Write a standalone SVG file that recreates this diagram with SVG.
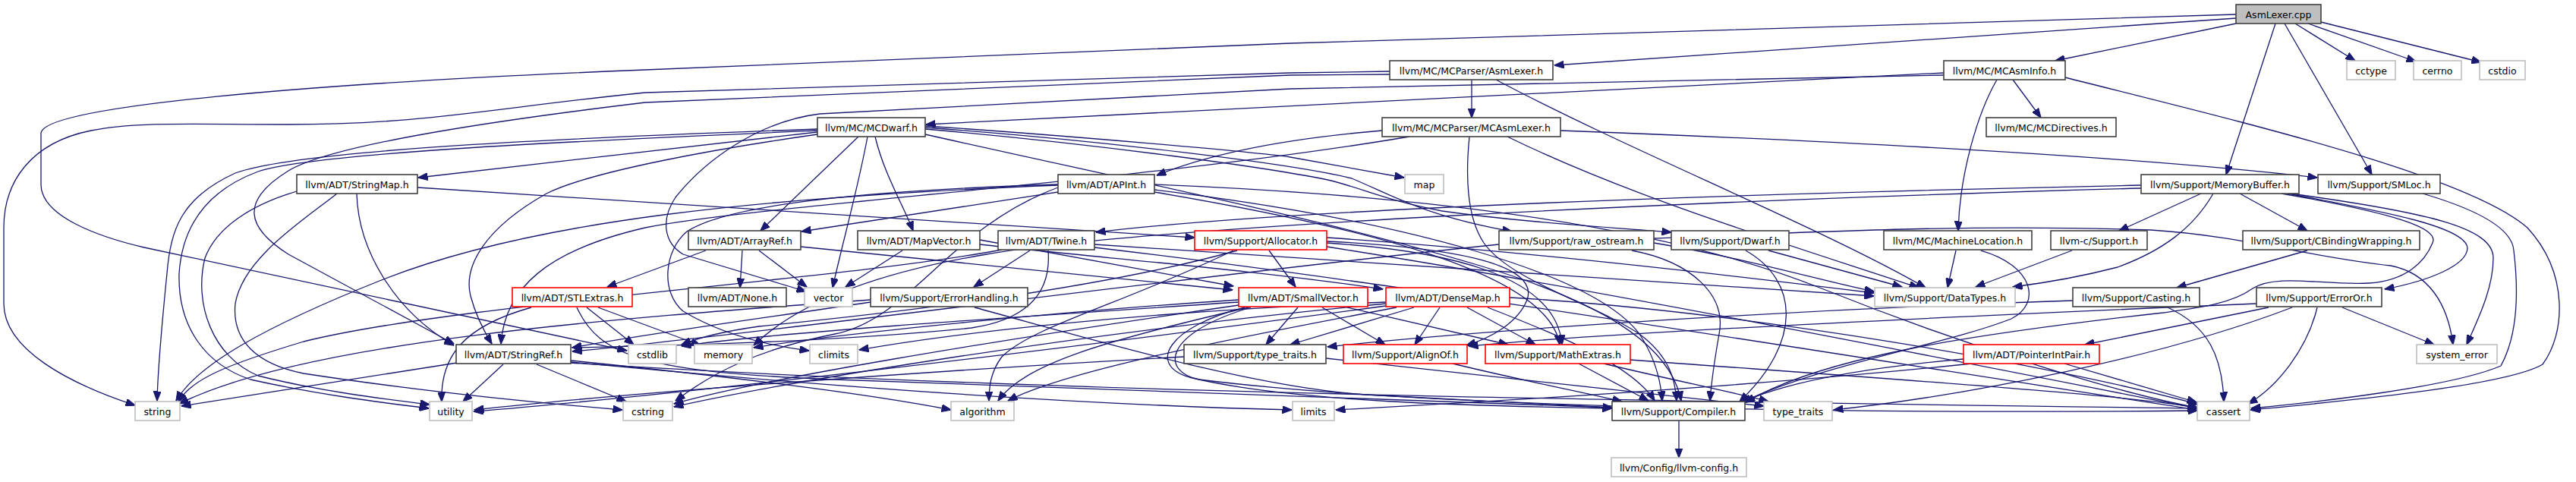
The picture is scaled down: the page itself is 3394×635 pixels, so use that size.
<svg xmlns="http://www.w3.org/2000/svg" width="3394" height="635" viewBox="0 0 3394 635">
<style>
.node rect{fill:#fff;stroke:#404040;stroke-width:1.6}
.node.red rect{stroke:#ff0000}
.node.ext rect{stroke:#bfbfbf}
.node.root rect{fill:#bfbfbf}
.node text{font-family:"DejaVu Sans",sans-serif;font-size:12.5px;fill:#000;text-anchor:middle}
.edges path{fill:none;stroke:#191970;stroke-width:1.3;marker-end:url(#arr)}
</style>
<defs>
<marker id="arr" markerWidth="13" markerHeight="10" refX="12.5" refY="5" orient="auto" markerUnits="userSpaceOnUse"><path d="M0,0 L13,5 L0,10 z" fill="#191970" stroke="#191970" stroke-width="1"/></marker>
</defs>
<rect width="3394" height="635" fill="#fff"/>
<g id="edges" class="edges">
<path d="M2946,24 L2048,86"/>
<path d="M2946,31 L2708,80"/>
<path d="M2998,31 L2933,230"/>
<path d="M3010,31 L3125,230"/>
<path d="M3024,31 L3103,80"/>
<path d="M3041,31 L3183,81"/>
<path d="M3058,29 L3269,82"/>
<path d="M2946,19 L1700,57 L850,92 C400,110 60,140 54,175 L54,243 C54,285 130,312 190,326 L826,462"/>
<path d="M1939,105 L1939,155"/>
<path d="M1831,94 L1700,96 L850,122 C650,142 560,164 379,164 C250,164 180,160 120,172 C40,188 5,240 5,300 L5,400 C5,460 90,505 178,534"/>
<path d="M1831,98 L1700,99 L850,135 C600,165 430,195 380,225 C315,265 325,300 380,335 L598,453"/>
<path d="M1971,105 C2150,200 2400,300 2537,379"/>
<path d="M2652,105 L2689,155"/>
<path d="M2631,105 C2605,150 2582,230 2580,304"/>
<path d="M2721,102 C2950,160 3250,230 3330,300 C3385,360 3380,440 3350,480 C3300,510 3050,532 2965,540"/>
<path d="M2561,96 L1220,164"/>
<path d="M2561,99 L1700,117 L1080,150 C1000,160 930,210 890,260 C870,290 875,320 900,335 L1062,384"/>
<path d="M1077,174 L551,234"/>
<path d="M1077,170 C800,180 400,195 310,228 C240,260 225,300 220,360 C214,420 208,480 207,528"/>
<path d="M1077,172 C800,184 420,200 340,226 C270,252 240,300 236,360 C234,430 270,480 330,500 C420,520 500,530 565,538"/>
<path d="M1077,177 C950,195 780,225 720,255 C640,300 610,350 620,390 C628,420 640,440 648,453"/>
<path d="M1131,180 L1002,304"/>
<path d="M1143,180 C1130,250 1110,320 1097,379"/>
<path d="M1153,180 C1165,230 1190,270 1203,304"/>
<path d="M1219,166 C1400,178 1650,200 1700,207 L1850,234"/>
<path d="M1219,168 C1450,185 1700,215 1781,235 C1840,260 1880,285 1992,305"/>
<path d="M1219,170 C1450,190 1680,222 1754,238 C1800,250 1830,265 1900,278 C2000,292 2100,298 2202,306"/>
<path d="M1219,177 C1500,240 1750,290 1950,350 C2100,395 2200,450 2215,528"/>
<path d="M1821,172 C1700,182 1600,200 1524,231"/>
<path d="M1857,180 C1500,240 1000,270 850,300 C720,330 665,380 660,453"/>
<path d="M1936,180 C1930,240 1935,290 1955,320 C1990,370 2100,400 2160,440 C2200,470 2207,500 2209,528"/>
<path d="M1986,180 C2150,260 2350,320 2528,379"/>
<path d="M2056,172 C2400,185 2800,205 3053,234"/>
<path d="M470,255 C472,330 520,410 598,455"/>
<path d="M550,247 L1574,313"/>
<path d="M444,255 C400,290 320,340 310,400 C305,450 340,480 400,492 C550,515 700,530 820,540"/>
<path d="M391,252 C330,270 285,300 270,340 C255,400 280,470 340,495 C420,515 500,525 566,533"/>
<path d="M1394,253 L1056,305"/>
<path d="M1394,244 C1000,260 700,290 500,370 C350,430 260,480 232,528"/>
<path d="M1394,247 C1250,300 1200,420 1100,440 C1000,460 940,490 890,528"/>
<path d="M1394,243 C1100,252 950,275 905,305 C875,330 870,385 900,410 C950,440 1010,455 1066,462"/>
<path d="M1521,253 C1800,300 2040,360 2055,454"/>
<path d="M1521,243 C1900,258 2200,300 2400,380 C2600,460 2800,520 2895,537"/>
<path d="M1521,250 C1850,290 2100,360 2160,440 C2180,470 2188,500 2190,528"/>
<path d="M2900,255 L2792,304"/>
<path d="M2916,255 C2890,300 2850,330 2790,352 C2740,365 2700,372 2652,378"/>
<path d="M2951,255 L3040,304"/>
<path d="M2821,244 C2300,255 1700,275 1444,306"/>
<path d="M2821,248 C2200,265 1500,300 1300,335 C1150,360 1050,400 993,455"/>
<path d="M3014,255 C3150,280 3250,300 3251,327 C3250,350 3200,370 3142,381"/>
<path d="M3018,255 C3200,280 3285,300 3285,340 C3285,380 3265,420 3250,454"/>
<path d="M3006,255 C3150,280 3215,300 3205,320 C3195,345 3170,370 3121,373 C3060,376 3000,360 2968,380 C2940,400 2900,405 2850,412 C2600,440 2400,470 2300,530"/>
<path d="M2179,314 C2400,305 2600,295 2834,303 C2950,310 3050,340 3150,350 C3200,360 3225,400 3232,454"/>
<path d="M3192,255 C3260,275 3310,300 3312,330 C3318,380 3318,440 3295,482 C3230,510 3050,530 2966,538"/>
<path d="M930,330 L800,378"/>
<path d="M978,330 L975,379"/>
<path d="M1000,330 L1063,378"/>
<path d="M1055,325 L1624,382"/>
<path d="M1189,330 L1114,378"/>
<path d="M1291,322 C1450,340 1650,355 1822,381"/>
<path d="M1291,316 L1625,377"/>
<path d="M1357,330 L1283,378"/>
<path d="M1381,330 C1385,380 1360,420 1280,432 C1100,450 900,455 754,458"/>
<path d="M1442,322 C1800,345 2200,375 2469,390"/>
<path d="M1442,326 C1900,380 2500,480 2896,540"/>
<path d="M1320,329 C1100,370 600,400 400,450 C300,480 250,500 235,530"/>
<path d="M1672,330 L1707,378"/>
<path d="M1748,318 C1900,325 2030,345 2012,395 C2000,425 1965,445 1932,455"/>
<path d="M1748,320 C1900,330 2050,360 2058,454"/>
<path d="M1748,313 C2000,330 2300,365 2469,386"/>
<path d="M1748,325 C2100,380 2600,480 2895,538"/>
<path d="M1630,330 C1450,380 1200,410 1000,430 C950,437 920,445 898,454"/>
<path d="M1625,330 C1480,400 1360,430 1320,470 C1305,490 1303,510 1303,528"/>
<path d="M1975,322 C1600,360 1000,440 754,463"/>
<path d="M2150,330 C2230,345 2275,390 2265,440 C2258,480 2255,500 2253,528"/>
<path d="M2179,320 C2300,340 2400,370 2469,384"/>
<path d="M2300,330 C2370,370 2375,450 2292,529"/>
<path d="M2330,330 L2506,378"/>
<path d="M2577,330 L2566,379"/>
<path d="M2610,330 C2680,350 2690,400 2650,420 C2560,455 2400,480 2295,530"/>
<path d="M2730,330 L2603,378"/>
<path d="M3040,330 L2868,379"/>
<path d="M700,405 C610,430 580,470 582,529"/>
<path d="M773,405 L835,454"/>
<path d="M788,405 L923,455"/>
<path d="M760,405 C790,470 850,490 1100,500 C1600,515 1900,530 2124,537"/>
<path d="M1147,398 C1000,420 850,440 754,458"/>
<path d="M1284,405 C1450,450 1650,510 1800,520 L2124,537"/>
<path d="M1147,395 C800,420 400,450 236,532"/>
<path d="M1710,405 L1668,454"/>
<path d="M1742,405 L1825,454"/>
<path d="M1775,405 L1987,454"/>
<path d="M1640,405 C1540,430 1510,480 1567,497 C1700,530 1950,535 2124,538"/>
<path d="M1648,405 C1530,440 1530,490 1580,500 C1900,540 2500,545 2895,541"/>
<path d="M1645,405 C1450,450 1350,480 1315,528"/>
<path d="M1632,398 C1300,420 1000,440 898,456"/>
<path d="M1632,402 C1300,450 1000,500 888,532"/>
<path d="M1632,395 C1400,410 1100,440 993,458"/>
<path d="M1897,405 L1864,454"/>
<path d="M1933,405 L2023,454"/>
<path d="M1863,405 L1700,454"/>
<path d="M1960,405 C2050,440 2150,480 2180,528"/>
<path d="M1989,392 C2300,410 2700,480 2898,533"/>
<path d="M1826,398 C1500,410 1250,440 1132,461"/>
<path d="M1840,405 C1600,450 1400,490 1328,528"/>
<path d="M1826,400 C1400,440 1000,510 888,536"/>
<path d="M1826,403 C1400,460 900,520 624,542"/>
<path d="M2731,396 C2300,410 1900,440 1749,457"/>
<path d="M2856,405 C2910,430 2928,470 2930,529"/>
<path d="M2989,405 L2747,454"/>
<path d="M2973,400 C2500,420 2100,440 1935,456"/>
<path d="M3053,405 C3040,460 3000,510 2962,532"/>
<path d="M3086,405 L3207,454"/>
<path d="M3020,405 C2850,470 2600,520 2416,540"/>
<path d="M602,478 L239,535"/>
<path d="M663,480 L610,529"/>
<path d="M707,480 L825,529"/>
<path d="M752,475 C1000,500 1150,520 1253,540"/>
<path d="M752,477 C1200,520 1500,535 1702,540"/>
<path d="M752,478 C1400,520 2300,530 2895,538"/>
<path d="M1560,470 C1200,490 800,520 625,540"/>
<path d="M1747,472 C2000,500 2200,520 2324,535"/>
<path d="M1914,479 C2000,500 2100,520 2137,529"/>
<path d="M2080,479 L2172,528"/>
<path d="M2148,474 C2500,500 2800,520 2895,537"/>
<path d="M2113,479 C2200,500 2290,518 2330,529"/>
<path d="M2587,473 C2450,485 2350,505 2295,530"/>
<path d="M2598,479 C2300,510 1950,530 1760,540"/>
<path d="M2720,479 L2894,530"/>
<path d="M2212,554 L2212,603"/>
</g>
<g id="n_cpp" class="node root"><rect x="2946" y="6" width="112" height="25"/><text x="3002" y="23.5">AsmLexer.cpp</text></g>
<g id="n_asmlexh" class="node"><rect x="1831" y="80" width="215" height="25"/><text x="1938.5" y="97.5">llvm/MC/MCParser/AsmLexer.h</text></g>
<g id="n_mcasminfo" class="node"><rect x="2561" y="80" width="160" height="25"/><text x="2641" y="97.5">llvm/MC/MCAsmInfo.h</text></g>
<g id="n_cctype" class="node ext"><rect x="3092" y="80" width="64" height="25"/><text x="3124" y="97.5">cctype</text></g>
<g id="n_cerrno" class="node ext"><rect x="3180" y="80" width="63" height="25"/><text x="3211.5" y="97.5">cerrno</text></g>
<g id="n_cstdio" class="node ext"><rect x="3267" y="80" width="60" height="25"/><text x="3297" y="97.5">cstdio</text></g>
<g id="n_mcdwarf" class="node"><rect x="1077" y="155" width="142" height="25"/><text x="1148" y="172.5">llvm/MC/MCDwarf.h</text></g>
<g id="n_mcasmlexer" class="node"><rect x="1821" y="155" width="235" height="25"/><text x="1938.5" y="172.5">llvm/MC/MCParser/MCAsmLexer.h</text></g>
<g id="n_mcdirectives" class="node"><rect x="2617" y="155" width="171" height="25"/><text x="2702.5" y="172.5">llvm/MC/MCDirectives.h</text></g>
<g id="n_stringmap" class="node"><rect x="391" y="230" width="159" height="25"/><text x="470.5" y="247.5">llvm/ADT/StringMap.h</text></g>
<g id="n_apint" class="node"><rect x="1394" y="230" width="127" height="25"/><text x="1457.5" y="247.5">llvm/ADT/APInt.h</text></g>
<g id="n_map" class="node ext"><rect x="1851" y="230" width="51" height="25"/><text x="1876.5" y="247.5">map</text></g>
<g id="n_memorybuffer" class="node"><rect x="2821" y="230" width="208" height="25"/><text x="2925" y="247.5">llvm/Support/MemoryBuffer.h</text></g>
<g id="n_smloc" class="node"><rect x="3054" y="230" width="161" height="25"/><text x="3134.5" y="247.5">llvm/Support/SMLoc.h</text></g>
<g id="n_arrayref" class="node"><rect x="907" y="304" width="148" height="25"/><text x="981" y="321.5">llvm/ADT/ArrayRef.h</text></g>
<g id="n_mapvector" class="node"><rect x="1130" y="304" width="161" height="25"/><text x="1210.5" y="321.5">llvm/ADT/MapVector.h</text></g>
<g id="n_twine" class="node"><rect x="1315" y="304" width="127" height="25"/><text x="1378.5" y="321.5">llvm/ADT/Twine.h</text></g>
<g id="n_allocator" class="node red"><rect x="1574" y="304" width="174" height="25"/><text x="1661" y="321.5">llvm/Support/Allocator.h</text></g>
<g id="n_rawostream" class="node"><rect x="1975" y="304" width="204" height="25"/><text x="2077" y="321.5">llvm/Support/raw_ostream.h</text></g>
<g id="n_dwarf" class="node"><rect x="2202" y="304" width="155" height="25"/><text x="2279.5" y="321.5">llvm/Support/Dwarf.h</text></g>
<g id="n_machineloc" class="node"><rect x="2482" y="304" width="195" height="25"/><text x="2579.5" y="321.5">llvm/MC/MachineLocation.h</text></g>
<g id="n_llvmc" class="node"><rect x="2702" y="304" width="127" height="25"/><text x="2765.5" y="321.5">llvm-c/Support.h</text></g>
<g id="n_cbinding" class="node"><rect x="2955" y="304" width="233" height="25"/><text x="3071.5" y="321.5">llvm/Support/CBindingWrapping.h</text></g>
<g id="n_stlextras" class="node red"><rect x="675" y="379" width="158" height="25"/><text x="754" y="396.5">llvm/ADT/STLExtras.h</text></g>
<g id="n_none" class="node"><rect x="907" y="379" width="129" height="25"/><text x="971.5" y="396.5">llvm/ADT/None.h</text></g>
<g id="n_vector" class="node ext"><rect x="1060" y="379" width="63" height="25"/><text x="1091.5" y="396.5">vector</text></g>
<g id="n_errorhandling" class="node"><rect x="1147" y="379" width="207" height="25"/><text x="1250.5" y="396.5">llvm/Support/ErrorHandling.h</text></g>
<g id="n_smallvector" class="node red"><rect x="1632" y="379" width="170" height="25"/><text x="1717" y="396.5">llvm/ADT/SmallVector.h</text></g>
<g id="n_densemap" class="node red"><rect x="1826" y="379" width="163" height="25"/><text x="1907.5" y="396.5">llvm/ADT/DenseMap.h</text></g>
<g id="n_datatypes" class="node ext"><rect x="2470" y="379" width="185" height="25"/><text x="2562.5" y="396.5">llvm/Support/DataTypes.h</text></g>
<g id="n_casting" class="node"><rect x="2731" y="379" width="167" height="25"/><text x="2814.5" y="396.5">llvm/Support/Casting.h</text></g>
<g id="n_erroror" class="node"><rect x="2973" y="379" width="165" height="25"/><text x="3055.5" y="396.5">llvm/Support/ErrorOr.h</text></g>
<g id="n_stringref" class="node"><rect x="601" y="454" width="151" height="25"/><text x="676.5" y="471.5">llvm/ADT/StringRef.h</text></g>
<g id="n_cstdlib" class="node ext"><rect x="828" y="454" width="63" height="25"/><text x="859.5" y="471.5">cstdlib</text></g>
<g id="n_memory" class="node ext"><rect x="915" y="454" width="76" height="25"/><text x="953" y="471.5">memory</text></g>
<g id="n_climits" class="node ext"><rect x="1067" y="454" width="63" height="25"/><text x="1098.5" y="471.5">climits</text></g>
<g id="n_typetraitsh" class="node"><rect x="1560" y="454" width="187" height="25"/><text x="1653.5" y="471.5">llvm/Support/type_traits.h</text></g>
<g id="n_alignof" class="node red"><rect x="1770" y="454" width="163" height="25"/><text x="1851.5" y="471.5">llvm/Support/AlignOf.h</text></g>
<g id="n_mathextras" class="node red"><rect x="1957" y="454" width="191" height="25"/><text x="2052.5" y="471.5">llvm/Support/MathExtras.h</text></g>
<g id="n_pointerintpair" class="node red"><rect x="2587" y="454" width="179" height="25"/><text x="2676.5" y="471.5">llvm/ADT/PointerIntPair.h</text></g>
<g id="n_systemerror" class="node ext"><rect x="3184" y="454" width="106" height="25"/><text x="3237" y="471.5">system_error</text></g>
<g id="n_string" class="node ext"><rect x="178" y="529" width="59" height="25"/><text x="207.5" y="546.5">string</text></g>
<g id="n_utility" class="node ext"><rect x="566" y="529" width="56" height="25"/><text x="594" y="546.5">utility</text></g>
<g id="n_cstring" class="node ext"><rect x="821" y="529" width="65" height="25"/><text x="853.5" y="546.5">cstring</text></g>
<g id="n_algorithm" class="node ext"><rect x="1253" y="529" width="83" height="25"/><text x="1294.5" y="546.5">algorithm</text></g>
<g id="n_limits" class="node ext"><rect x="1703" y="529" width="55" height="25"/><text x="1730.5" y="546.5">limits</text></g>
<g id="n_compiler" class="node"><rect x="2124" y="529" width="175" height="25"/><text x="2211.5" y="546.5">llvm/Support/Compiler.h</text></g>
<g id="n_typetraits" class="node ext"><rect x="2324" y="529" width="90" height="25"/><text x="2369" y="546.5">type_traits</text></g>
<g id="n_cassert" class="node ext"><rect x="2895" y="529" width="69" height="25"/><text x="2929.5" y="546.5">cassert</text></g>
<g id="n_llvmconfig" class="node ext"><rect x="2123" y="603" width="178" height="25"/><text x="2212" y="620.5">llvm/Config/llvm-config.h</text></g>
</svg>
